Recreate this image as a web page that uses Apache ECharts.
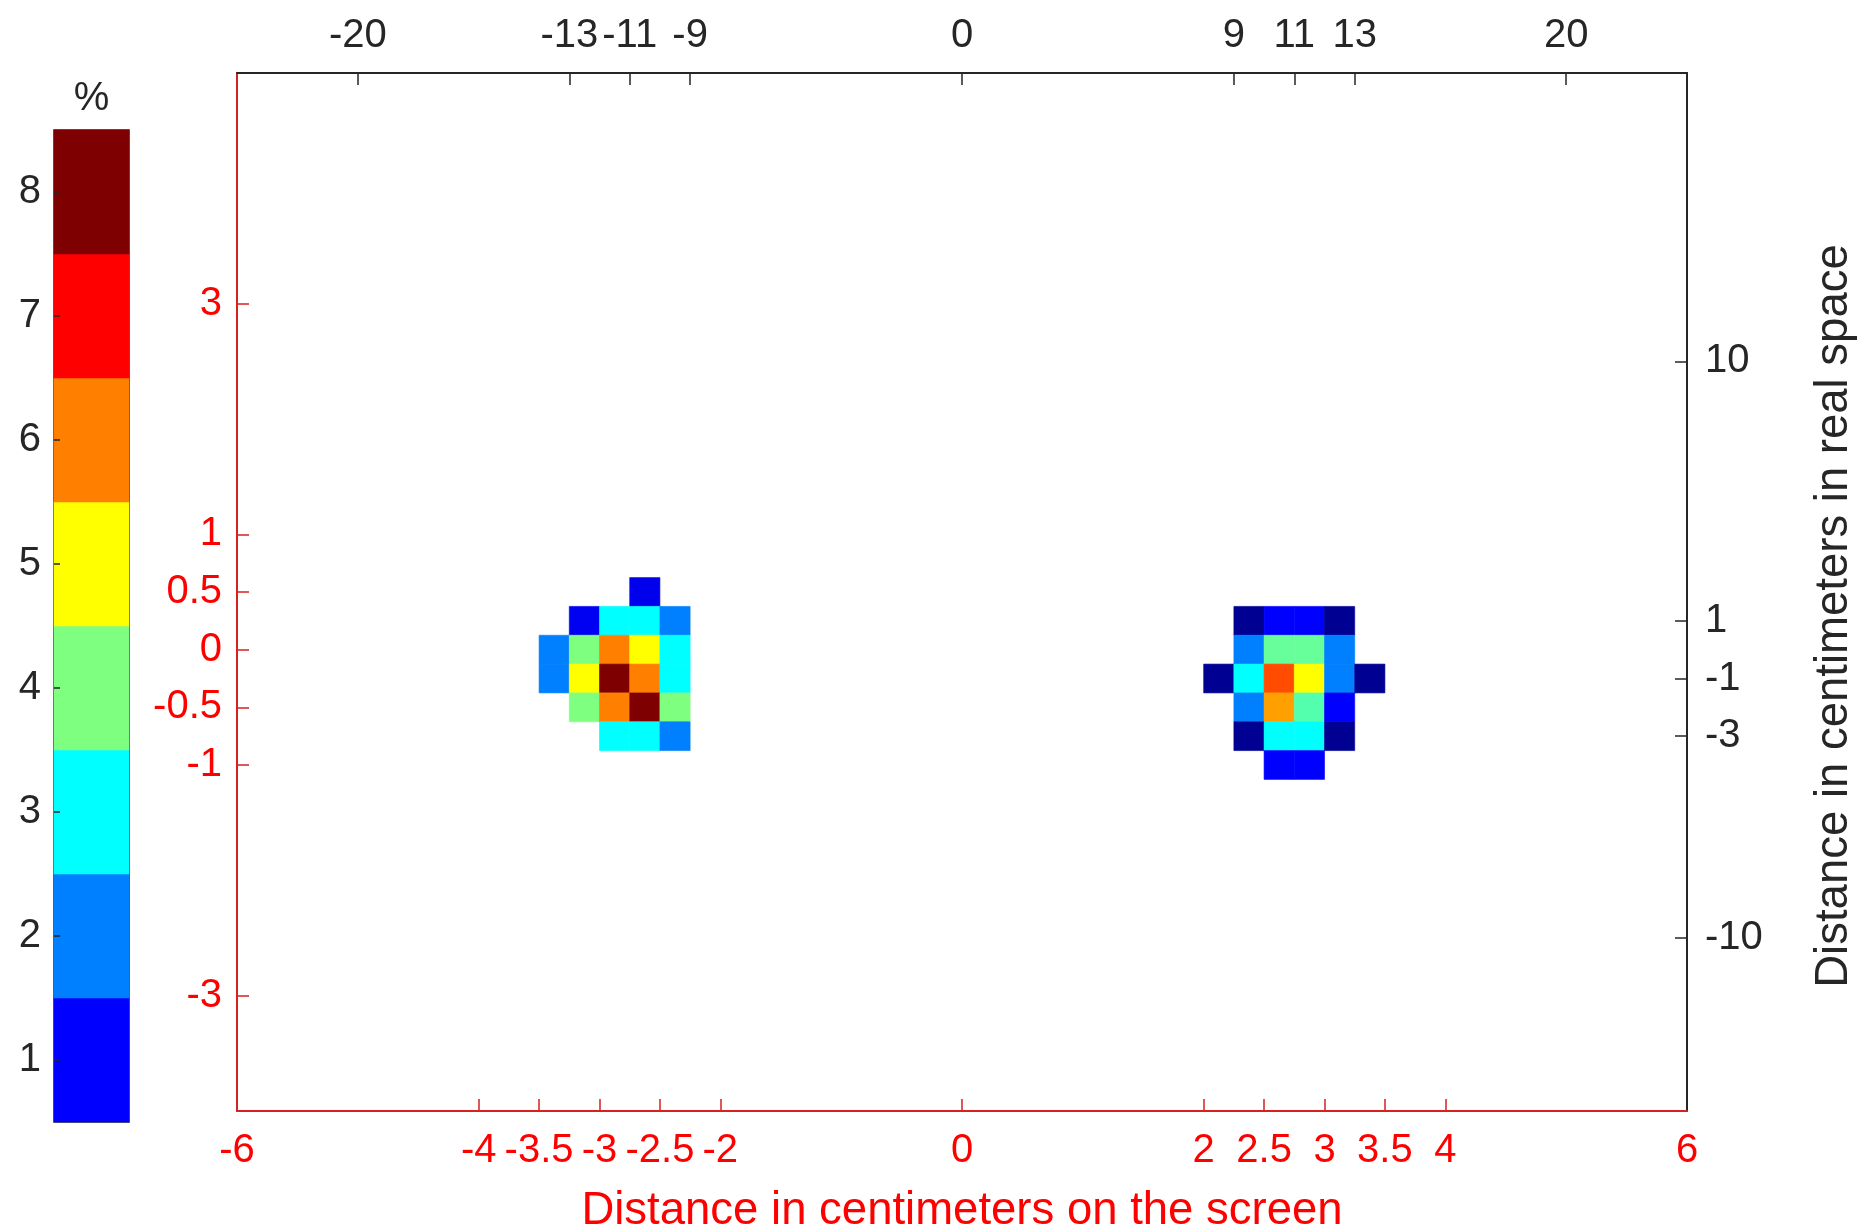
<!DOCTYPE html>
<html>
<head>
<meta charset="utf-8">
<script src="https://cdn.jsdelivr.net/npm/echarts@6/dist/echarts.min.js"></script>
<style>
  html, body { margin: 0; padding: 0; background: #ffffff; }
  #chart { width: 1858px; height: 1230px; }
</style>
</head>
<body>
<div id="chart"></div>
<script>
// ---------------- DATA ----------------
// Screen-space axes (cm on screen)
const bottomTicks = [-6, -4, -3.5, -3, -2.5, -2, 0, 2, 2.5, 3, 3.5, 4, 6];
const leftTicks = [3, 1, 0.5, 0, -0.5, -1, -3];
// Real-space axes (cm in real space)
const topTicks = [-20, -13, -11, -9, 0, 9, 11, 13, 20];
const rightTicks = [10, 1, -1, -3, -10];

// Colour bar levels (%)
const colorbarLevels = [1, 2, 3, 4, 5, 6, 7, 8];

// Left cluster: cell centres in real space, values in %
const leftColsX = [-13.5, -12.5, -11.5, -10.5, -9.5];
const leftRowsY = [2, 1, 0, -1, -2, -3];
const leftValues = [
  [null, null, null, 0.85, null],
  [null, 0.9, 3, 3, 2],
  [2, 4, 6, 5, 3],
  [2, 5, 8, 6, 3],
  [null, 4, 6, 8, 4],
  [null, null, 3, 3, 2]
];

// Right cluster: cell centres in real space, values in %
const rightColsX = [8.5, 9.5, 10.5, 11.5, 12.5, 13.5];
const rightRowsY = [1, 0, -1, -2, -3, -4];
const rightValues = [
  [null, 0.15, 1, 1, 0.15, null],
  [null, 2, 3.8, 3.8, 2, null],
  [0.15, 3, 6.4, 5, 2, 0.15],
  [null, 2, 5.75, 3.65, 1, null],
  [null, 0.15, 3, 3, 0.15, null],
  [null, null, 1, 1, null, null]
];

// ---------------- BUILD ----------------
function toTriples(cols, rows, vals) {
  const out = [];
  rows.forEach((y, r) => cols.forEach((x, c) => {
    const v = vals[r][c];
    if (v !== null) out.push([x, y, v]);
  }));
  return out;
}
const leftData = toTriples(leftColsX, leftRowsY, leftValues);
const rightData = toTriples(rightColsX, rightRowsY, rightValues);
const colorbarData = colorbarLevels.map((v, i) => [0, i, v]);

const RED = '#ff0000';
const RED_LINE = '#d42222';
const DARK = '#262626';
const FONT = 'Liberation Sans, Arial, Helvetica, sans-serif';
const TICK_FS = 40;
const TITLE_FS = 45.5;

function renderCell(params, api) {
  const c = api.coord([api.value(0), api.value(1)]);
  const s = api.size([1, 1]);
  const color = api.visual('color');
  return {
    type: 'rect',
    shape: { x: c[0] - s[0] / 2, y: c[1] - s[1] / 2, width: s[0], height: s[1] },
    style: { fill: color, stroke: color, lineWidth: 0.6 }
  };
}

const chart = echarts.init(document.getElementById('chart'), null, { renderer: 'canvas' });

const option = {
  backgroundColor: '#ffffff',
  animation: false,
  textStyle: { fontFamily: FONT },
  grid: [
    { left: 237, top: 73, width: 1450, height: 1038, containLabel: false, outerBoundsMode: 'none' },
    { left: 54, top: 130, width: 75, height: 992, containLabel: false, outerBoundsMode: 'none',
      show: true, borderColor: DARK, borderWidth: 1.5, backgroundColor: 'transparent' }
  ],
  visualMap: {
    type: 'continuous',
    show: false,
    min: 0,
    max: 8,
    dimension: 2,
    seriesIndex: [0, 1, 2],
    inRange: { color: ['#00007f', '#0000ff', '#007fff', '#00ffff', '#7fff7f', '#ffff00', '#ff7f00', '#ff0000', '#7f0000'] }
  },
  xAxis: [
    {
      gridIndex: 0, type: 'value', position: 'bottom', min: -6, max: 6,
      splitLine: { show: false },
      axisLine: { show: true, onZero: false, lineStyle: { color: RED_LINE, width: 2 } },
      axisTick: { show: true, inside: true, length: 12, lineStyle: { color: RED_LINE, width: 1.5 },
        customValues: bottomTicks.filter(v => v !== -6 && v !== 6) },
      axisLabel: { show: true, color: RED, fontSize: TICK_FS, margin: 20, fontFamily: FONT,
        customValues: bottomTicks, showMinLabel: true, showMaxLabel: true },
      name: 'Distance in centimeters on the screen',
      nameLocation: 'middle',
      nameGap: 77,
      nameTextStyle: { color: RED, fontSize: TITLE_FS, fontFamily: FONT }
    },
    {
      gridIndex: 0, type: 'value', position: 'top', min: -24, max: 24,
      splitLine: { show: false },
      axisLine: { show: true, onZero: false, lineStyle: { color: DARK, width: 2 } },
      axisTick: { show: true, inside: true, length: 12, lineStyle: { color: DARK, width: 1.5 }, customValues: topTicks },
      axisLabel: { show: true, color: DARK, fontSize: TICK_FS, margin: 17, fontFamily: FONT, customValues: topTicks }
    },
    {
      gridIndex: 1, type: 'category', position: 'top', data: ['%'],
      axisLine: { show: false, onZero: false }, axisTick: { show: false }, splitLine: { show: false },
      axisLabel: { show: true, color: DARK, fontSize: TICK_FS, margin: 11, fontFamily: FONT }
    }
  ],
  yAxis: [
    {
      gridIndex: 0, type: 'value', position: 'left', min: -4, max: 5,
      splitLine: { show: false },
      axisLine: { show: true, onZero: false, lineStyle: { color: RED_LINE, width: 2 } },
      axisTick: { show: true, inside: true, length: 12, lineStyle: { color: RED_LINE, width: 1.5 }, customValues: leftTicks },
      axisLabel: { show: true, color: RED, fontSize: TICK_FS, margin: 15, fontFamily: FONT, customValues: leftTicks }
    },
    {
      gridIndex: 0, type: 'value', position: 'right', min: -16, max: 20,
      splitLine: { show: false },
      axisLine: { show: true, onZero: false, lineStyle: { color: DARK, width: 2 } },
      axisTick: { show: true, inside: true, length: 12, lineStyle: { color: DARK, width: 1.5 }, customValues: rightTicks },
      axisLabel: { show: true, color: DARK, fontSize: TICK_FS, margin: 18, fontFamily: FONT, customValues: rightTicks },
      name: 'Distance in centimeters in real space',
      nameLocation: 'middle',
      nameGap: 124,
      nameTextStyle: { color: DARK, fontSize: TITLE_FS, fontFamily: FONT, padding: [0, 48, 0, 0] }
    },
    {
      gridIndex: 1, type: 'category', position: 'left', data: colorbarLevels.map(String),
      splitLine: { show: false },
      axisLine: { show: false, onZero: false },
      axisTick: { show: true, inside: true, alignWithLabel: true, length: 6, lineStyle: { color: DARK, width: 1.5 } },
      axisLabel: { show: true, color: DARK, fontSize: TICK_FS, margin: 13, fontFamily: FONT }
    }
  ],
  series: [
    {
      type: 'custom', name: 'left', xAxisIndex: 1, yAxisIndex: 1,
      renderItem: renderCell, encode: { x: 0, y: 1 }, data: leftData, z: 1
    },
    {
      type: 'custom', name: 'right', xAxisIndex: 1, yAxisIndex: 1,
      renderItem: renderCell, encode: { x: 0, y: 1 }, data: rightData, z: 1
    },
    {
      type: 'heatmap', name: 'colorbar', xAxisIndex: 2, yAxisIndex: 2,
      data: colorbarData, z: 0
    }
  ]
};
chart.setOption(option);
</script>
</body>
</html>
